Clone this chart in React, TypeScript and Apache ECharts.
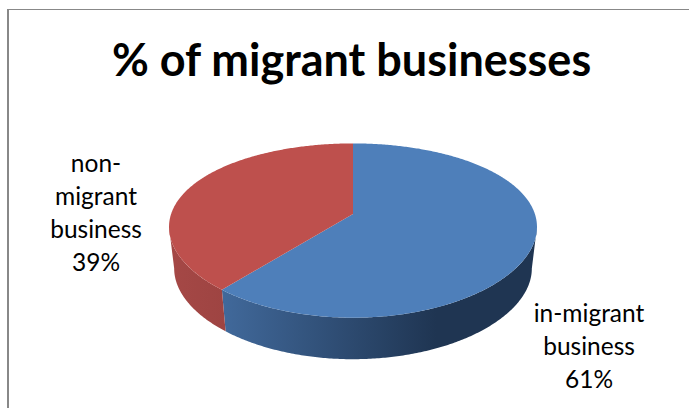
import React, { useEffect, useRef } from "react";
import * as echarts from "echarts";

const categories = ["in-migrant\nbusiness", "non-\nmigrant\nbusiness"];
const shares = [61, 39];
const topColors = ["#4E7FBA", "#BE504D"];
const wallStops = [
  ["#41699B", "#1F3552"],
  ["#A54846", "#9E4442"],
];
const labelCentres = [
  [589, 345],
  [96, 212],
];
const titleText = "% of migrant businesses";

// Tilted disc: a perspective projection of the unit circle, so the apex sits above the ellipse centre.
const apex = { x: 353, y: 214 };
const radiusX = 181.9;
const radiusY = 84;
const tiltX = 0.15;
const tiltY = 0.19;
const depth = 41.5;
const baseShrink = 0.972;

function project(angle: number, level: number) {
  const u = Math.sin(angle);
  const v = -Math.cos(angle);
  const sx = level ? baseShrink : 1;
  return [
    apex.x + (radiusX * u * sx) / (1 - tiltX * v),
    apex.y + (radiusY * v) / (1 - tiltY * v) + level * depth,
  ];
}

function arcPoints(from: number, to: number, level: number) {
  const n = Math.max(2, Math.ceil(Math.abs(to - from) / 0.01));
  const pts: number[][] = [];
  for (let i = 0; i <= n; i++) pts.push(project(from + ((to - from) * i) / n, level));
  return pts;
}

function renderWedge(params: any, api: any) {
  const i = params.dataIndex;
  const total = shares.reduce((a, b) => a + b, 0);
  const before = shares.slice(0, i).reduce((a, b) => a + b, 0);
  const start = (before / total) * Math.PI * 2;
  const end = ((before + api.value(0)) / total) * Math.PI * 2;

  const children: any[] = [];
  // The wall runs along the near rim, between the two silhouette tangents of the disc.
  const tangent = Math.asin(tiltX);
  const wallFrom = Math.max(start, Math.PI / 2 + tangent);
  const wallTo = Math.min(end, (Math.PI * 3) / 2 - tangent);
  if (wallTo > wallFrom) {
    const pts = arcPoints(wallFrom, wallTo, 0).concat(arcPoints(wallTo, wallFrom, 1));
    const stops = wallStops[i];
    const fill =
      i === 0
        ? new echarts.graphic.LinearGradient(0, 0, 1, 0, [
            { offset: 0, color: stops[0] },
            { offset: 0.68, color: stops[1] },
            { offset: 1, color: stops[1] },
          ])
        : new echarts.graphic.LinearGradient(0, 0, 1, 0, [
            { offset: 0, color: stops[0] },
            { offset: 1, color: stops[1] },
          ]);
    children.push({ type: "polygon", shape: { points: pts }, style: { fill } });
  }
  const face = [[apex.x, apex.y]].concat(arcPoints(start, end, 0));
  children.push({ type: "polygon", shape: { points: face }, style: { fill: topColors[i] } });
  return { type: "group", children };
}

export default function App() {
  const ref = useRef<HTMLDivElement>(null);
  useEffect(() => {
    if (!ref.current) return;
    const chart = echarts.init(ref.current, undefined, { renderer: "svg" });
    chart.setOption({
      animation: false,
      backgroundColor: "#ffffff",
      title: {
        text: titleText,
        left: 107,
        top: 31,
        textStyle: { fontFamily: "Lato", fontWeight: "bold", fontSize: 45, color: "#000000" },
      },
      series: [
        {
          type: "custom",
          coordinateSystem: "none",
          renderItem: renderWedge,
          data: shares.map((v) => [v]),
          silent: true,
        },
      ],
      graphic: [
        {
          type: "line",
          shape: { x1: 7, y1: 9.5, x2: 689, y2: 9.5 },
          style: { stroke: "#888888", lineWidth: 1 },
        },
        {
          type: "line",
          shape: { x1: 8, y1: 9, x2: 8, y2: 408 },
          style: { stroke: "#888888", lineWidth: 2 },
        },
        ...categories.map((name, i) => ({
          type: "text",
          x: labelCentres[i][0],
          y: labelCentres[i][1],
          style: {
            text: `${name}\n${shares[i]}%`,
            fontFamily: "Lato",
            fontSize: 24.5,
            lineHeight: 33,
            fill: "#000000",
            align: "center",
            verticalAlign: "middle",
          },
        })),
      ],
    });
    return () => chart.dispose();
  }, []);
  return (
    <div
      ref={ref}
      style={{ position: "fixed", left: 0, top: 0, width: 689, height: 408, background: "#fff" }}
    />
  );
}
